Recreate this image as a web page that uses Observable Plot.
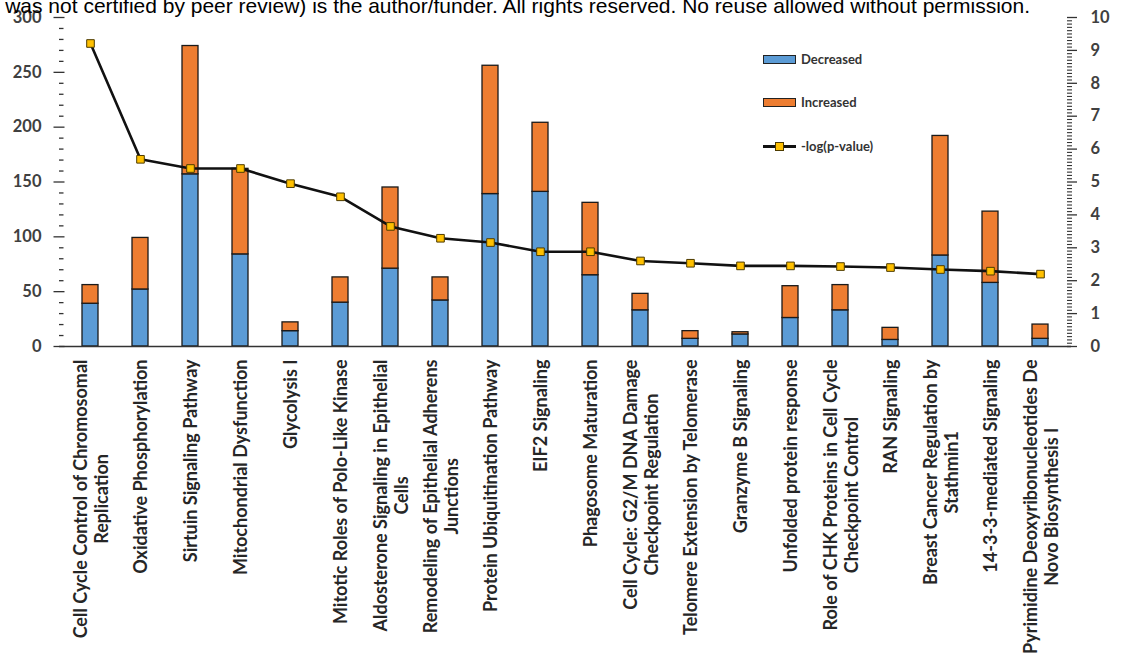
<!DOCTYPE html>
<html>
<head>
<meta charset="utf-8">
<script src="https://cdn.jsdelivr.net/npm/d3@7"></script>
<script src="https://cdn.jsdelivr.net/npm/@observablehq/plot@0.6"></script>
<style>
  html, body { margin: 0; padding: 0; background: #fff; }
  #wrap { position: relative; width: 1122px; height: 659px; overflow: hidden; }
  #banner {
    position: absolute; right: 92px; top: -5px; white-space: nowrap;
    font: 21px/21px "Liberation Sans", Arial, sans-serif; color: #000; z-index: 2;
  }
  .leg { position: absolute; left: 763px; height: 12px; display: flex; align-items: center;
         font: bold 13px Lato, sans-serif; color: #333; }
  .sw { width: 31px; height: 7px; border: 1px solid #222; margin-right: 5px; box-sizing: content-box; }
  .ln { position: relative; width: 33px; height: 12px; margin-right: 5px; }
  .ln::before { content: ""; position: absolute; left: 0; right: 0; top: 5px; height: 2.5px; background: #111; }
  .ln::after { content: ""; position: absolute; left: 12px; top: 2px; width: 7px; height: 7px;
               background: #FFC000; border: 1px solid #4d3b00; }
</style>
</head>
<body>
<div id="wrap">
  <div id="banner">was not certified by peer review) is the author/funder. All rights reserved. No reuse allowed without permission.</div>
  <div class="leg" style="top:53px"><span class="sw" style="background:#5B9BD5"></span>Decreased</div>
  <div class="leg" style="top:96px"><span class="sw" style="background:#ED7D31"></span>Increased</div>
  <div class="leg" style="top:140px"><span class="ln"></span>-log(p-value)</div>
</div>
<script>
// Canonical pathways (line breaks as shown under the bars)
const pathways = [
  "Cell Cycle Control of Chromosomal\nReplication",
  "Oxidative Phosphorylation",
  "Sirtuin Signaling Pathway",
  "Mitochondrial Dysfunction",
  "Glycolysis I",
  "Mitotic Roles of Polo-Like Kinase",
  "Aldosterone Signaling in Epithelial\nCells",
  "Remodeling of Epithelial Adherens\nJunctions",
  "Protein Ubiquitination Pathway",
  "EIF2 Signaling",
  "Phagosome Maturation",
  "Cell Cycle: G2/M DNA Damage\nCheckpoint Regulation",
  "Telomere Extension by Telomerase",
  "Granzyme B Signaling",
  "Unfolded protein response",
  "Role of CHK Proteins in Cell Cycle\nCheckpoint Control",
  "RAN Signaling",
  "Breast Cancer Regulation by\nStathmin1",
  "14-3-3-mediated Signaling",
  "Pyrimidine Deoxyribonucleotides De\nNovo Biosynthesis I"
];
// Number of molecules per pathway
const decreased = [39, 52, 157, 84, 14, 40, 71, 42, 139, 141, 65, 33, 7, 11, 26, 33, 6, 83, 58, 7];
const increased = [17, 47, 117, 78, 8, 23, 74, 21, 117, 63, 66, 15, 7, 2, 29, 23, 11, 109, 65, 13];
// -log(p-value), read on the right-hand axis
const logP = [9.21, 5.69, 5.41, 5.41, 4.95, 4.55, 3.65, 3.29, 3.16, 2.88, 2.88, 2.60, 2.53, 2.45, 2.45, 2.43, 2.40, 2.34, 2.29, 2.20];

const seriesNames = ["Decreased", "Increased"];
const seriesColors = ["#5B9BD5", "#ED7D31"];
const leftTicks = [0, 50, 100, 150, 200, 250, 300];
const rightTicks = [0, 1, 2, 3, 4, 5, 6, 7, 8, 9, 10];

// right axis spans 0–10 over the same height as 0–300 on the left
const k = 300 / 10;

const bars = pathways.flatMap((p, i) => [
  {pathway: p, series: seriesNames[0], value: decreased[i]},
  {pathway: p, series: seriesNames[1], value: increased[i]}
]);
const sig = pathways.map((p, i) => ({pathway: p, logp: logP[i]}));

const leftMinor = d3.range(0, 301, 10).filter(v => v % 50);
const rightMinor = d3.range(0, 101).filter(i => i % 10).map(i => i / 10 * k);

const axisText = {fontSize: 16.5, fontWeight: "bold", fill: "#404040"};
const noLabel = {label: null};

const chart = Plot.plot({
  width: 1122,
  height: 659,
  marginTop: 17,
  marginBottom: 313,
  marginLeft: 59,
  marginRight: 51,
  style: {fontFamily: "Lato, sans-serif", background: "transparent", overflow: "visible"},
  x: {domain: pathways, paddingInner: 0.684, paddingOuter: 0.342, axis: null},
  y: {domain: [0, 300], axis: null},
  color: {domain: seriesNames, range: seriesColors},
  marks: [
    Plot.barY(bars, {x: "pathway", y: "value", fill: "series", stroke: "#1a1a1a", strokeWidth: 1.3}),
    Plot.ruleY([0], {stroke: "#333", strokeWidth: 1.6}),
    // left axis
    Plot.axisY({anchor: "left", ticks: leftTicks, tickSize: 0, tickPadding: 18, line: true, stroke: "#333", strokeWidth: 1.6, ...noLabel, ...axisText}),
    Plot.axisY({anchor: "left", ticks: leftTicks, tickSize: 11, dx: 5.5, tickFormat: () => "", stroke: "#333", strokeWidth: 1.3, ...noLabel}),
    Plot.axisY({anchor: "left", ticks: leftMinor, tickSize: 4.5, dx: 4.5, tickFormat: () => "", stroke: "#333", strokeWidth: 1.3, ...noLabel}),
    // right axis
    Plot.axisY({anchor: "right", ticks: rightTicks.map(v => v * k), tickFormat: d => d / k, tickSize: 0, tickPadding: 19, line: true, stroke: "#333", strokeWidth: 1.6, ...noLabel, ...axisText}),
    Plot.axisY({anchor: "right", ticks: rightTicks.map(v => v * k), tickSize: 10, dx: -5, tickFormat: () => "", stroke: "#333", strokeWidth: 1.3, ...noLabel}),
    Plot.axisY({anchor: "right", ticks: rightMinor, tickSize: 5, dx: -5, tickFormat: () => "", stroke: "#333", strokeWidth: 1.1, ...noLabel}),
    // significance line
    Plot.line(sig, {x: "pathway", y: d => d.logp * k, stroke: "#111", strokeWidth: 2.6}),
    Plot.dot(sig, {x: "pathway", y: d => d.logp * k, symbol: "square", r: 4.3, fill: "#FFC000", stroke: "#4d3b00", strokeWidth: 1}),
    // category labels under the bars
    Plot.text(pathways, {x: d => d, text: d => d, frameAnchor: "bottom", dy: 13, rotate: -90,
      textAnchor: "middle", lineAnchor: "middle", lineHeight: 1.17, fontSize: 18, fontWeight: "bold", fill: "#262626"})
  ]
});

document.getElementById("wrap").prepend(chart);

// rotated labels: hang each block from the axis, lines centred on the longest one
d3.select(chart).selectAll('g[aria-label="text"] text').each(function() {
  const spans = this.querySelectorAll("tspan");
  const L = spans.length ? d3.max(spans, s => s.getComputedTextLength()) : this.getComputedTextLength();
  const t = this.getAttribute("transform") || "";
  this.setAttribute("transform", `${t} translate(${-L / 2},0)`);
});
</script>
</body>
</html>
